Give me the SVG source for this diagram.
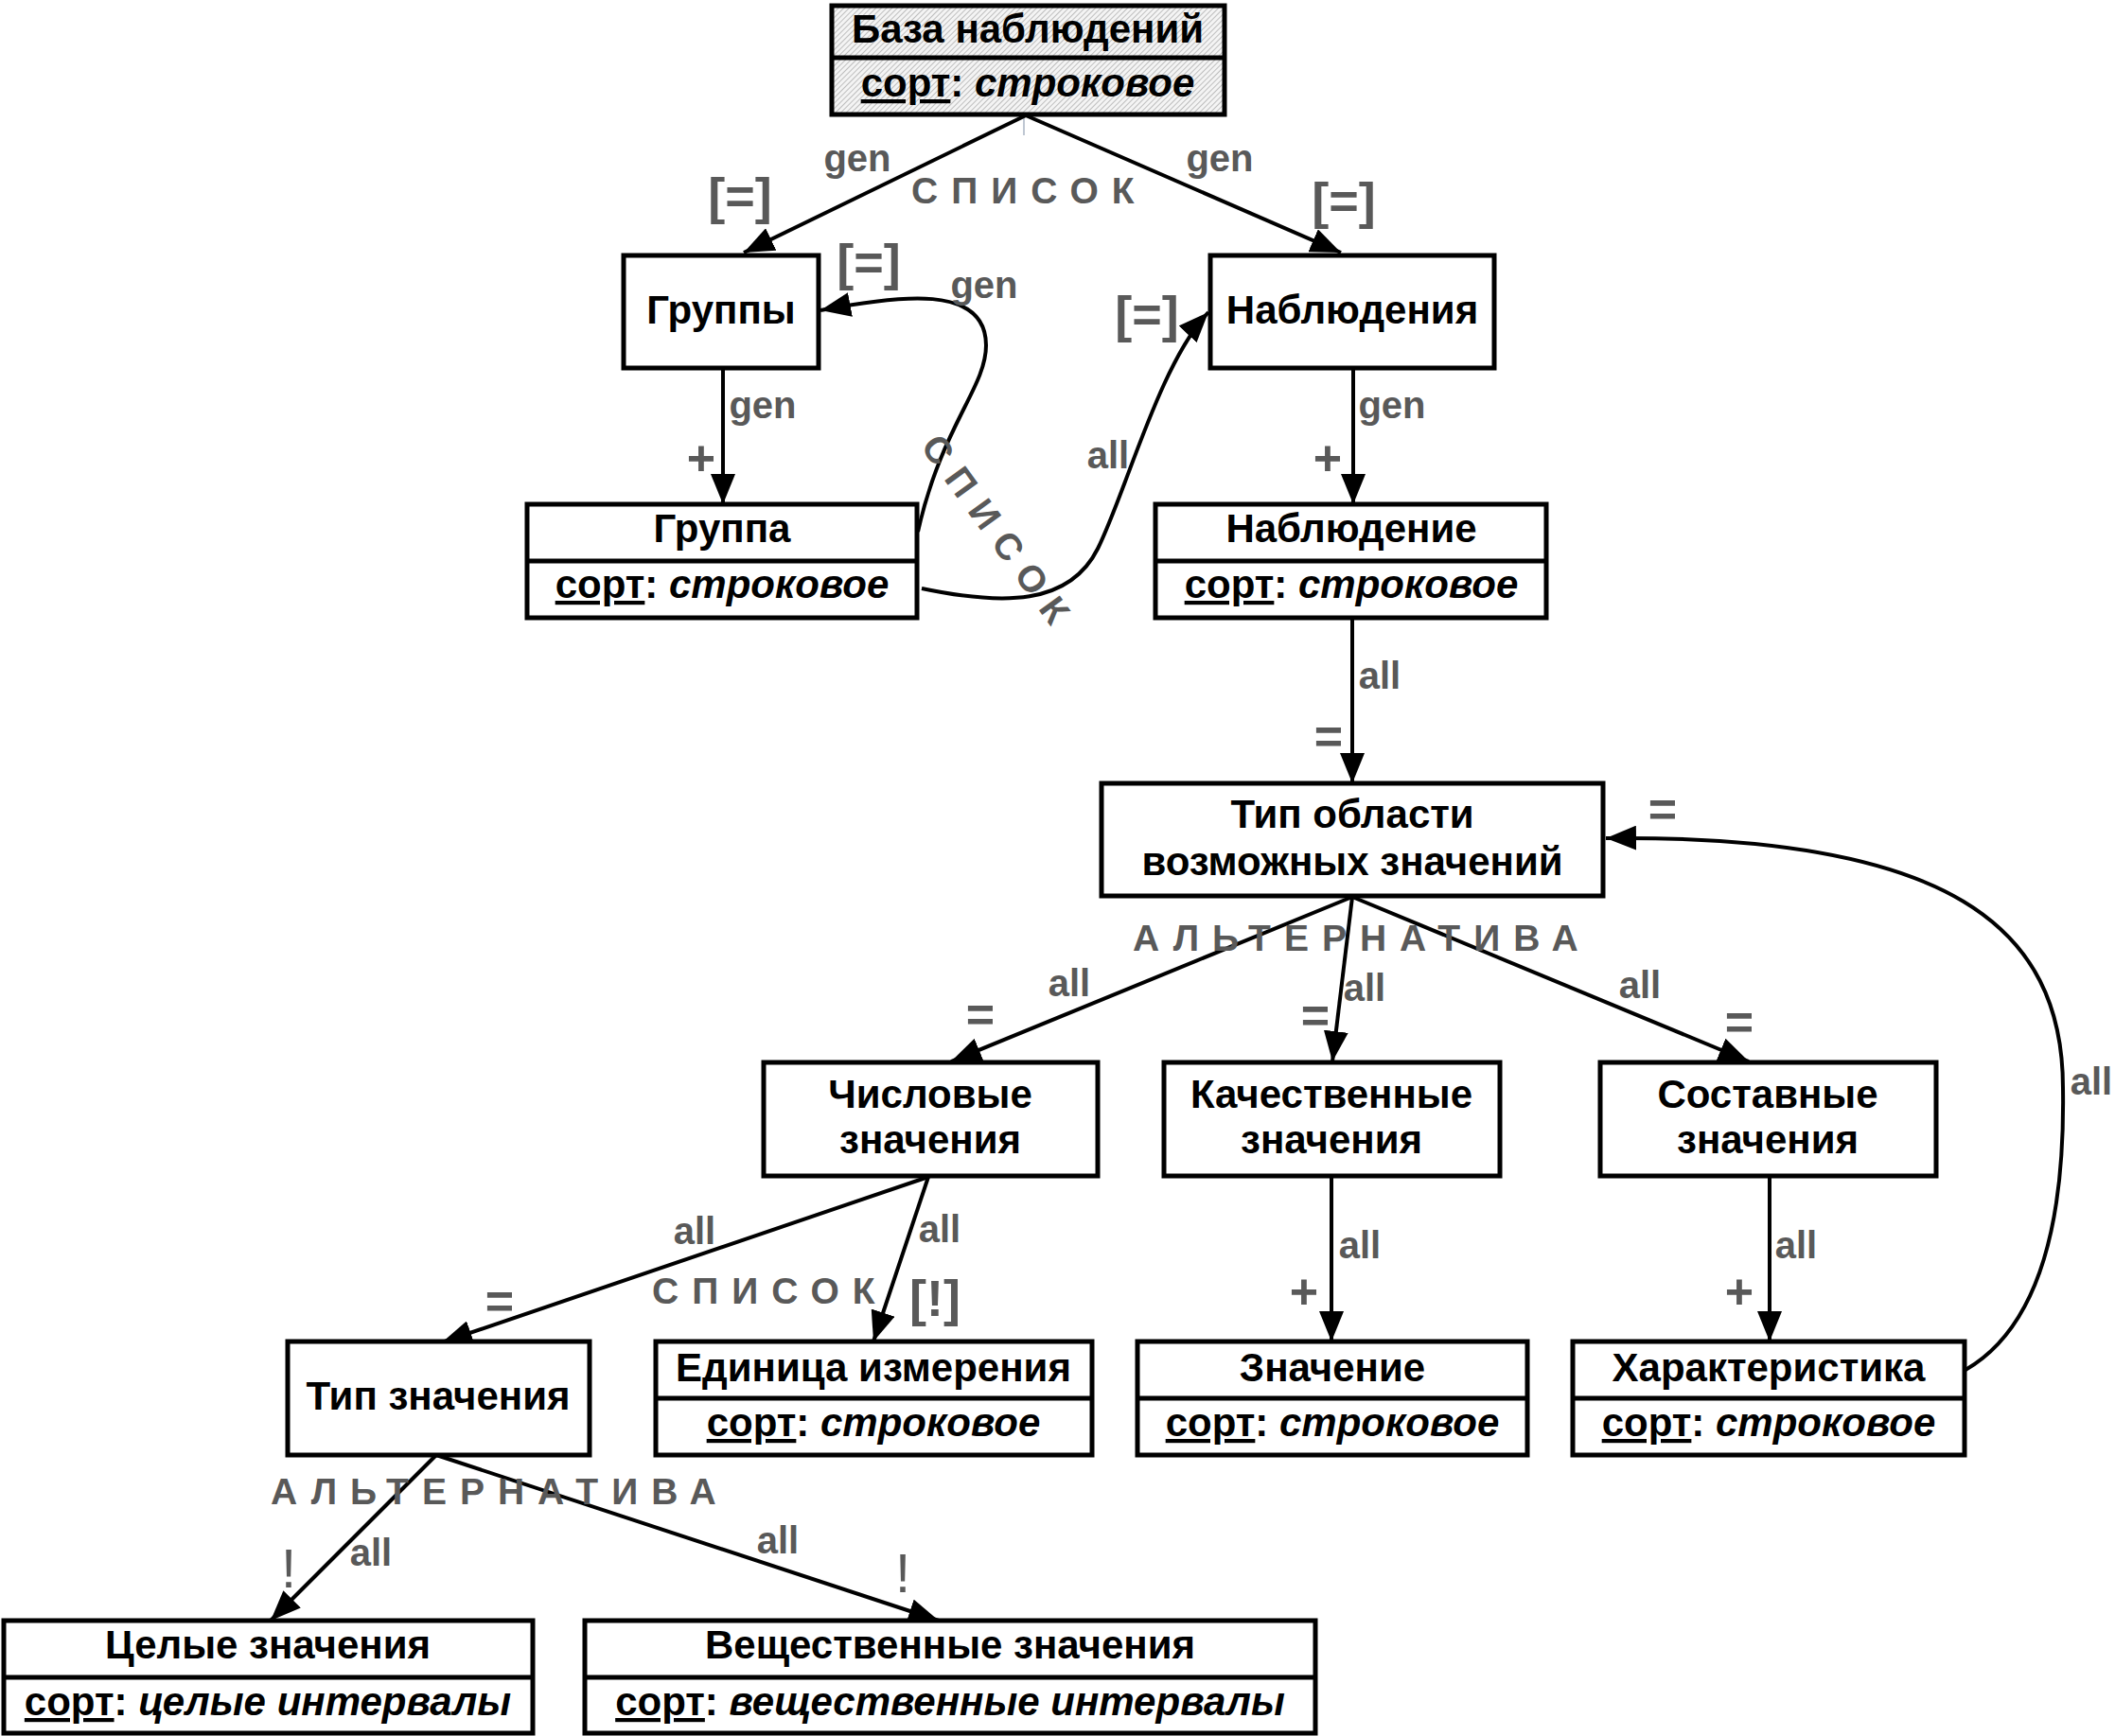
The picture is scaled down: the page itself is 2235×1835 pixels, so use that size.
<svg xmlns="http://www.w3.org/2000/svg" width="2235" height="1835" viewBox="0 0 2235 1835">
<defs>
<pattern id="hatch" patternUnits="userSpaceOnUse" width="4" height="4" patternTransform="rotate(45)">
<rect width="4" height="4" fill="#f4f4f4"/>
<line x1="0" y1="0" x2="0" y2="4" stroke="#9a9a9a" stroke-width="1.2"/>
</pattern>
<marker id="arr" markerUnits="userSpaceOnUse" markerWidth="32" markerHeight="26" refX="32" refY="13" orient="auto">
<path d="M0,0 L32,13 L0,26 z" fill="#000"/>
</marker>
<style>
.box{fill:#fff;stroke:#000;stroke-width:5}
.hb{fill:url(#hatch);stroke:#000;stroke-width:5}
.dv{stroke:#000;stroke-width:5}
.t{font-family:"Liberation Sans",Arial,sans-serif;font-weight:bold;font-size:42px;text-anchor:middle;fill:#000}
.u{text-decoration:underline}
.i{font-style:italic}
.c{fill:none;stroke:#000;stroke-width:4;marker-end:url(#arr)}
.l{font-family:"Liberation Sans",Arial,sans-serif;font-weight:bold;font-size:40px;text-anchor:middle;fill:#595959}
.b{font-family:"Liberation Sans",Arial,sans-serif;font-weight:bold;font-size:54px;text-anchor:middle;fill:#595959}
.e{font-family:"Liberation Sans",Arial,sans-serif;font-weight:bold;font-size:52px;text-anchor:middle;fill:#595959}
.x{font-family:"Liberation Sans",Arial,sans-serif;font-weight:normal;font-size:58px;text-anchor:middle;fill:#595959}
.s{font-family:"Liberation Sans",Arial,sans-serif;font-weight:bold;font-size:39px;letter-spacing:14px;fill:#595959}
</style>
</defs>
<rect width="2235" height="1835" fill="#fff"/>

<g id="connectors">
<line x1="1082" y1="122" x2="1082" y2="143" stroke="#7f8fa6" stroke-width="1"/>
<path class="c" d="M1084,122 L786,267"/>
<path class="c" d="M1084,122 L1417,267"/>
<path class="c" d="M764,389 L764,533"/>
<path class="c" d="M1430,389 L1430,533"/>
<path class="c" d="M970,562 C995,450 1042,410 1042,365 C1042,300 950,312 867,328"/>
<path class="c" d="M974,622 C1060,640 1130,640 1160,580 C1190,520 1225,385 1277,330"/>
<path class="c" d="M1429,653 L1429,828"/>
<path class="c" d="M1429,948 L1005,1122"/>
<path class="c" d="M1429,948 L1408,1122"/>
<path class="c" d="M1429,948 L1848,1122"/>
<path class="c" d="M2077,1448 C2160,1400 2182,1280 2180,1150 C2180,980 2060,882 1697,886"/>
<path class="c" d="M981,1244 L467,1419"/>
<path class="c" d="M981,1244 L923,1418"/>
<path class="c" d="M1407,1243 L1407,1418"/>
<path class="c" d="M1870,1243 L1870,1418"/>
<path class="c" d="M461,1538 L286,1713"/>
<path class="c" d="M461,1538 L992,1713"/>
</g>

<g id="labels">
<text class="l" x="906" y="181">gen</text>
<text class="l" x="1289" y="181">gen</text>
<text class="b" x="782" y="226">[=]</text>
<text class="b" x="1420" y="231">[=]</text>
<text class="s" x="963" y="215">СПИСОК</text>
<text class="b" x="918" y="296">[=]</text>
<text class="l" x="1040" y="315">gen</text>
<text class="b" x="1212" y="351">[=]</text>
<text class="l" x="806" y="442">gen</text>
<text class="e" x="741" y="502">+</text>
<text class="l" x="1471" y="442">gen</text>
<text class="e" x="1403" y="502">+</text>
<text class="l" x="1171" y="495">all</text>
<text class="s" transform="translate(972,472) rotate(54)" x="0" y="0">СПИСОК</text>
<text class="l" x="1458" y="728">all</text>
<text class="e" x="1404" y="796">=</text>
<text class="e" x="1757" y="873">=</text>
<text class="s" x="1197" y="1005">АЛЬТЕРНАТИВА</text>
<text class="l" x="1130" y="1053">all</text>
<text class="e" x="1036" y="1090">=</text>
<text class="l" x="1442" y="1058">all</text>
<text class="e" x="1390" y="1091">=</text>
<text class="l" x="1733" y="1055">all</text>
<text class="e" x="1838" y="1098">=</text>
<text class="l" x="2210" y="1157">all</text>
<text class="l" x="734" y="1315">all</text>
<text class="l" x="993" y="1313">all</text>
<text class="e" x="528" y="1393">=</text>
<text class="s" x="689" y="1378">СПИСОК</text>
<text class="b" x="988" y="1391">[!]</text>
<text class="l" x="1437" y="1330">all</text>
<text class="e" x="1378" y="1383">+</text>
<text class="l" x="1898" y="1330">all</text>
<text class="e" x="1838" y="1383">+</text>
<text class="s" x="286" y="1590">АЛЬТЕРНАТИВА</text>
<text class="l" x="392" y="1655">all</text>
<text class="x" x="305" y="1678">!</text>
<text class="l" x="822" y="1642">all</text>
<text class="x" x="954" y="1683">!</text>
</g>

<g id="base">
<rect class="hb" x="879" y="6" width="415" height="115"/>
<line class="dv" x1="879" y1="61" x2="1294" y2="61"/>
<text class="t" x="1086" y="45">База наблюдений</text>
<text class="t" x="1086" y="102"><tspan class="u">сорт</tspan>: <tspan class="i">строковое</tspan></text>
</g>

<g id="groups">
<rect class="box" x="659" y="270" width="206" height="119"/>
<text class="t" x="762" y="342">Группы</text>
</g>

<g id="observations">
<rect class="box" x="1279" y="270" width="300" height="119"/>
<text class="t" x="1429" y="342">Наблюдения</text>
</g>

<g id="group">
<rect class="box" x="557" y="533" width="412" height="120"/>
<line class="dv" x1="557" y1="593" x2="969" y2="593"/>
<text class="t" x="763" y="573">Группа</text>
<text class="t" x="763" y="632"><tspan class="u">сорт</tspan>: <tspan class="i">строковое</tspan></text>
</g>

<g id="observation">
<rect class="box" x="1221" y="533" width="413" height="120"/>
<line class="dv" x1="1221" y1="593" x2="1634" y2="593"/>
<text class="t" x="1428" y="573">Наблюдение</text>
<text class="t" x="1428" y="632"><tspan class="u">сорт</tspan>: <tspan class="i">строковое</tspan></text>
</g>

<g id="domain-type">
<rect class="box" x="1164" y="828" width="530" height="119"/>
<text class="t" x="1429" y="875">Тип области</text>
<text class="t" x="1429" y="925">возможных значений</text>
</g>

<g id="numeric">
<rect class="box" x="807" y="1123" width="353" height="120"/>
<text class="t" x="983" y="1171">Числовые</text>
<text class="t" x="983" y="1219">значения</text>
</g>

<g id="qualitative">
<rect class="box" x="1230" y="1123" width="355" height="120"/>
<text class="t" x="1407" y="1171">Качественные</text>
<text class="t" x="1407" y="1219">значения</text>
</g>

<g id="composite">
<rect class="box" x="1691" y="1123" width="355" height="120"/>
<text class="t" x="1868" y="1171">Составные</text>
<text class="t" x="1868" y="1219">значения</text>
</g>

<g id="value-type">
<rect class="box" x="304" y="1418" width="319" height="120"/>
<text class="t" x="463" y="1490">Тип значения</text>
</g>

<g id="unit">
<rect class="box" x="693" y="1418" width="461" height="120"/>
<line class="dv" x1="693" y1="1478" x2="1154" y2="1478"/>
<text class="t" x="923" y="1460">Единица измерения</text>
<text class="t" x="923" y="1518"><tspan class="u">сорт</tspan>: <tspan class="i">строковое</tspan></text>
</g>

<g id="value">
<rect class="box" x="1202" y="1418" width="412" height="120"/>
<line class="dv" x1="1202" y1="1478" x2="1614" y2="1478"/>
<text class="t" x="1408" y="1460">Значение</text>
<text class="t" x="1408" y="1518"><tspan class="u">сорт</tspan>: <tspan class="i">строковое</tspan></text>
</g>

<g id="characteristic">
<rect class="box" x="1662" y="1418" width="414" height="120"/>
<line class="dv" x1="1662" y1="1478" x2="2076" y2="1478"/>
<text class="t" x="1869" y="1460">Характеристика</text>
<text class="t" x="1869" y="1518"><tspan class="u">сорт</tspan>: <tspan class="i">строковое</tspan></text>
</g>

<g id="integer">
<rect class="box" x="4" y="1713" width="559" height="119"/>
<line class="dv" x1="4" y1="1773" x2="563" y2="1773"/>
<text class="t" x="283" y="1753">Целые значения</text>
<text class="t" x="283" y="1813"><tspan class="u">сорт</tspan>: <tspan class="i">целые интервалы</tspan></text>
</g>

<g id="real">
<rect class="box" x="618" y="1713" width="772" height="119"/>
<line class="dv" x1="618" y1="1773" x2="1390" y2="1773"/>
<text class="t" x="1004" y="1753">Вещественные значения</text>
<text class="t" x="1004" y="1813"><tspan class="u">сорт</tspan>: <tspan class="i">вещественные интервалы</tspan></text>
</g>
</svg>
